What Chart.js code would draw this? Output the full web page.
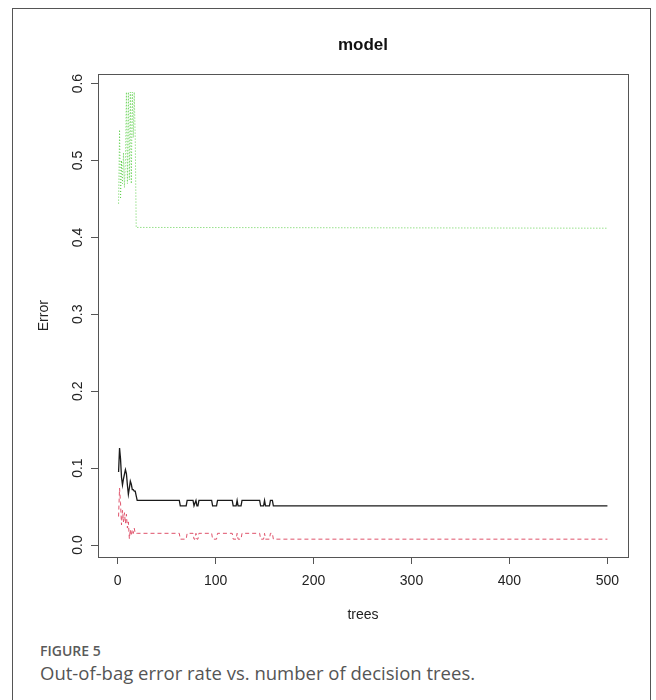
<!DOCTYPE html>
<html>
<head>
<meta charset="utf-8">
<script src="https://cdn.jsdelivr.net/npm/chart.js@4"></script>
<style>
  body { margin: 0; background: #fff; width: 656px; height: 700px; overflow: hidden; position: relative; }
  #frame { position: absolute; left: 12px; top: 8px; width: 639px; height: 720px; border: 1px solid #555; box-sizing: border-box; }
  #wrap { position: absolute; left: 0; top: 0; width: 656px; height: 640px; }
  .fig { position: absolute; left: 40px; top: 641px; font-family: "Open Sans", sans-serif; font-weight: 600; font-size: 14px; color: #5a5a5a; }
  .cap { position: absolute; left: 40px; top: 660px; font-family: "Open Sans", sans-serif; font-size: 18.5px; color: #555; }
</style>
</head>
<body>
<div id="frame"></div>
<div id="wrap"><canvas id="errChart"></canvas></div>
<div class="fig">FIGURE 5</div>
<div class="cap">Out-of-bag error rate vs. number of decision trees.</div>
<script>
// eixos
const X_TICKS = [0, 100, 200, 300, 400, 500]
const Y_TICKS = [0.0, 0.1, 0.2, 0.3, 0.4, 0.5, 0.6]

// OOB (preto)
const oobTrees = [1, 2, 3, 4, 5, 6, 7, 8, 9, 10, 11, 12, 13, 14, 15, 16, 17, 18, 19, 20,
  63, 64, 70, 71, 77, 78, 79, 80, 81, 82, 83, 96, 97, 101, 102,
  117, 118, 121, 122, 123, 126, 127, 145, 146, 149, 150, 151, 155, 156, 158, 159, 500]
const oobError = [0.095, 0.126, 0.112, 0.088, 0.078, 0.086, 0.092, 0.098, 0.093, 0.078,
  0.066, 0.074, 0.083, 0.079, 0.072, 0.072, 0.070, 0.070, 0.064, 0.058,
  0.058, 0.051, 0.051, 0.058, 0.058, 0.051, 0.051, 0.058, 0.051, 0.051, 0.058,
  0.058, 0.051, 0.051, 0.058,
  0.058, 0.051, 0.051, 0.058, 0.051, 0.051, 0.058,
  0.058, 0.051, 0.051, 0.058, 0.051, 0.051, 0.058, 0.058, 0.051, 0.051]

// classe 0 (vermelho tracejado)
const c0Trees = [1, 2, 3, 4, 5, 6, 7, 8, 9, 10, 11, 12, 13, 14, 15, 16, 17, 18, 20,
  63, 64, 70, 71, 77, 78, 79, 80, 81, 82, 83, 96, 97, 101, 102,
  117, 118, 121, 122, 123, 126, 127, 145, 146, 149, 150, 151, 155, 156, 158, 159, 500]
const c0Error = [0.037, 0.074, 0.055, 0.026, 0.045, 0.030, 0.042, 0.028, 0.040, 0.022,
  0.030, 0.008, 0.020, 0.012, 0.020, 0.015, 0.022, 0.015, 0.0152,
  0.0152, 0.0076, 0.0076, 0.0152, 0.0152, 0.0076, 0.0076, 0.0152, 0.0076, 0.0076, 0.0152,
  0.0152, 0.0076, 0.0076, 0.0152,
  0.0152, 0.0076, 0.0076, 0.0152, 0.0076, 0.0076, 0.0152,
  0.0152, 0.0076, 0.0076, 0.0152, 0.0076, 0.0076, 0.0152, 0.0152, 0.0076, 0.0076]

// classe 1 (verde pontilhado)
const c1Trees = [1, 2, 3, 4, 5, 6, 7, 8, 9, 10, 11, 12, 13, 14, 15, 16, 17, 18, 19, 500]
const c1Error = [0.444, 0.540, 0.450, 0.500, 0.470, 0.510, 0.465, 0.500, 0.589, 0.470,
  0.589, 0.475, 0.589, 0.470, 0.589, 0.530, 0.589, 0.530, 0.413, 0.412]

const toPoints = (xs, ys) => xs.map((x, i) => ({ x: x, y: ys[i] }))

const FONT = "'Liberation Sans', Arial, sans-serif"

// caixa à volta da área do gráfico
const boxPlugin = {
  id: "box",
  afterDraw(chart) {
    const a = chart.chartArea
    const ctx = chart.ctx
    ctx.save()
    ctx.strokeStyle = "#555"
    ctx.lineWidth = 1
    ctx.strokeRect(Math.round(a.left) + 0.5, Math.round(a.top) + 0.5, Math.round(a.right - a.left), Math.round(a.bottom - a.top))
    ctx.restore()
  },
}

// rótulos do eixo y rodados (estilo R)
const yLabelPlugin = {
  id: "yLabels",
  afterDraw(chart) {
    const ctx = chart.ctx
    const y = chart.scales.y
    ctx.save()
    ctx.font = "14px " + FONT
    ctx.fillStyle = "#222"
    ctx.textAlign = "center"
    ctx.textBaseline = "middle"
    y.ticks.forEach((t) => {
      const py = y.getPixelForValue(t.value)
      ctx.save()
      ctx.translate(78, py)
      ctx.rotate(-Math.PI / 2)
      ctx.fillText(t.value.toFixed(1), 0, 0)
      ctx.restore()
    })
    ctx.restore()
  },
}

const ctx = document.getElementById("errChart").getContext("2d")
new Chart(ctx, {
  type: "line",
  data: {
    datasets: [
      {
        label: "OOB",
        data: toPoints(oobTrees, oobError),
        borderColor: "#1a1a1a",
        borderWidth: 1.3,
        pointRadius: 0,
        tension: 0,
      },
      {
        label: "0",
        data: toPoints(c0Trees, c0Error),
        borderColor: "#DF536B",
        borderWidth: 1,
        borderDash: [4, 3],
        pointRadius: 0,
        tension: 0,
      },
      {
        label: "1",
        data: toPoints(c1Trees, c1Error),
        borderColor: "#61D04F",
        borderWidth: 1,
        borderDash: [1, 2],
        pointRadius: 0,
        tension: 0,
      },
    ],
  },
  options: {
    responsive: true,
    maintainAspectRatio: false,
    animation: false,
    layout: { padding: { left: 0, right: 28, top: 0, bottom: 0 } },
    plugins: {
      legend: { display: false },
      tooltip: { enabled: false },
      title: {
        display: true,
        text: "model",
        fullSize: false,
        color: "#111",
        font: { family: FONT, size: 17, weight: "bold" },
        padding: { top: 35, bottom: 19 },
      },
    },
    scales: {
      x: {
        type: "linear",
        min: -20,
        max: 521,
        afterBuildTicks: (scale) => {
          scale.ticks = X_TICKS.map((v) => ({ value: v }))
        },
        afterFit: (scale) => {
          scale.height = 83
        },
        ticks: {
          color: "#222",
          padding: 9,
          maxRotation: 0,
          font: { family: FONT, size: 14 },
          callback: (v) => String(v),
        },
        grid: { drawOnChartArea: false, tickLength: 7, color: "#555" },
        border: { display: false },
        title: {
          display: true,
          text: "trees",
          color: "#222",
          font: { family: FONT, size: 14 },
          padding: { top: 0, bottom: 16 },
        },
      },
      y: {
        type: "linear",
        min: -0.0156,
        max: 0.612,
        afterBuildTicks: (scale) => {
          scale.ticks = Y_TICKS.map((v) => ({ value: v }))
        },
        afterFit: (scale) => {
          scale.width = 98
        },
        ticks: {
          color: "rgba(0,0,0,0)",
          font: { family: FONT, size: 12 },
          callback: (v) => v.toFixed(1),
        },
        grid: { drawOnChartArea: false, tickLength: 7, color: "#555" },
        border: { display: false },
        title: {
          display: true,
          text: "Error",
          color: "#222",
          font: { family: FONT, size: 14 },
          padding: { top: 36, bottom: 0 },
        },
      },
    },
  },
  plugins: [boxPlugin, yLabelPlugin],
})
</script>
</body>
</html>
